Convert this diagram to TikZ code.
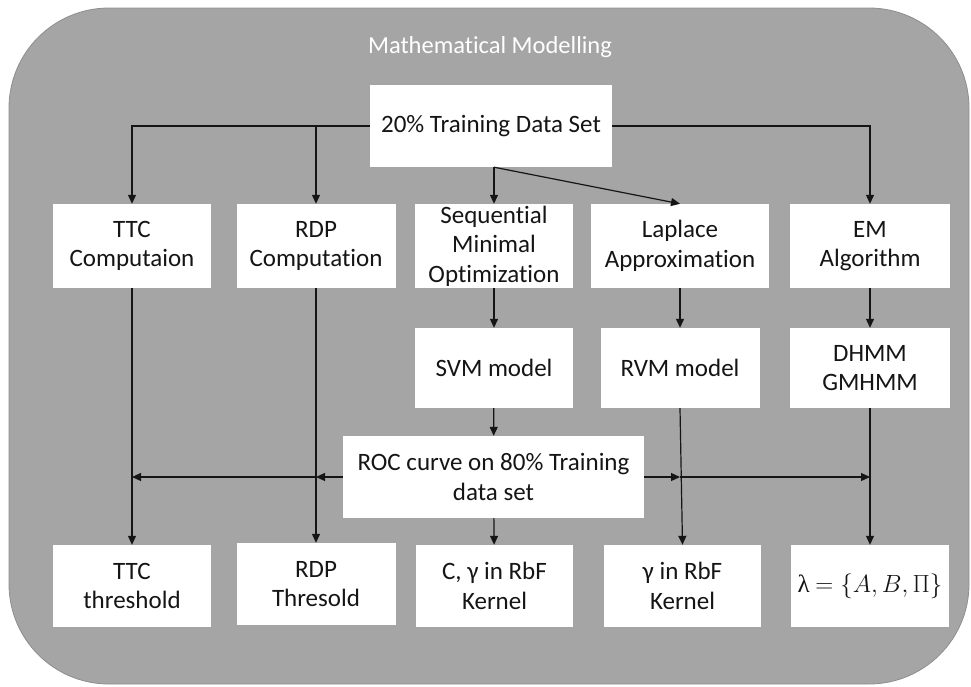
\documentclass[tikz,border=0pt]{standalone}
\usepackage{fontspec}
\setmainfont{Carlito}[RawFeature={-liga;-clig;-dlig}]
\newfontfamily\lserif{Liberation Serif}
\usetikzlibrary{arrows.meta}
\definecolor{bggrey}{HTML}{A5A5A5}
\definecolor{bgedge}{HTML}{8E8E8E}
\definecolor{ink}{HTML}{151515}
\tikzset{
  box/.style={fill=white, draw=none, align=center, inner sep=0pt,
    font=\fontsize{25}{29.5}\selectfont, text=ink},
  conn/.style={draw=ink, line width=1.2pt, -{Triangle[length=9pt,width=8pt]}},
}
\begin{document}
\begin{tikzpicture}[x=1pt,y=-1pt]
\useasboundingbox (0,0) rectangle (971,686);
\fill[bggrey, draw=bgedge, line width=0.8pt, rounded corners=100pt] (9,8) rectangle (969,684);
\node[text=white, font=\fontsize{24.5}{28}\selectfont] (title) at (490,47) {Mathematical Modelling};

% top box
\node[box, minimum width=242pt, minimum height=82pt] (top) at (491,126) {20\% Training Data Set};

% row 1
\node[box, minimum width=158pt, minimum height=84pt] (ttc) at (132,246) {TTC\\Computaion};
\node[box, minimum width=159pt, minimum height=84pt] (rdp) at (316,246) {RDP\\Computation};
\node[box, minimum width=158pt, minimum height=84pt] (smo) at (494,246) {Sequential\\Minimal\\Optimization};
\node[box, minimum width=178pt, minimum height=84pt] (lap) at (680,246) {Laplace\\Approximation};
\node[box, minimum width=160pt, minimum height=84pt] (em) at (870,246) {EM\\Algorithm};

% row 2
\node[box, minimum width=158pt, minimum height=80pt] (svm) at (494,368) {SVM model};
\node[box, minimum width=159pt, minimum height=80pt] (rvm) at (680,368) {RVM model};
\node[box, minimum width=160pt, minimum height=80pt] (hmm) at (870,368) {DHMM\\GMHMM};

% ROC
\node[box, minimum width=301pt, minimum height=82pt] (roc) at (493.5,477) {ROC curve on 80\% Training\\data set};

% bottom row
\node[box, minimum width=158pt, minimum height=82pt] (ttcth) at (132,586) {TTC\\threshold};
\node[box, minimum width=159pt, minimum height=82pt] (rdpth) at (316,584) {RDP\\Thresold};
\node[box, minimum width=157pt, minimum height=82pt] (cg) at (494.5,586) {C, γ in RbF\\Kernel};
\node[box, minimum width=157pt, minimum height=82pt] (gk) at (682.5,586) {γ in RbF\\Kernel};
\node[box, minimum width=158pt, minimum height=82pt] (lam) at (870,586) {{\lserif λ} $=\{A, B, \Pi\}$};

% top distribution
\draw[conn] (top.west) -| (ttc.north);
\draw[conn] (rdp |- top.west) -- (rdp.north);
\draw[conn] (top.east) -| (em.north);
\draw[conn] (top.south -| smo) -- (smo.north);
\draw[conn] (top.south -| smo) -- (lap.north);

% row1 -> row2
\draw[conn] (smo) -- (svm);
\draw[conn] (lap) -- (rvm);
\draw[conn] (em) -- (hmm);
\draw[conn] (svm) -- (roc);

% verticals to bottom
\draw[conn] (ttc) -- (ttcth);
\draw[conn] (rdp) -- (rdpth);
\draw[conn] (roc) -- (cg);
\draw[conn] (rvm.south) -- (gk.north);
\draw[conn] (hmm) -- (lam);

% ROC horizontal distribution
\coordinate (jr) at (rdp |- roc);
\coordinate (jt) at (ttc |- roc);
\coordinate (jv) at (rvm |- roc);
\coordinate (jh) at (hmm |- roc);
\draw[conn] (roc.west) -- (jr);
\draw[conn] (jr) -- (jt);
\draw[conn] (roc.east) -- (jv);
\draw[conn] (jv) -- (jh);
\end{tikzpicture}
\end{document}
